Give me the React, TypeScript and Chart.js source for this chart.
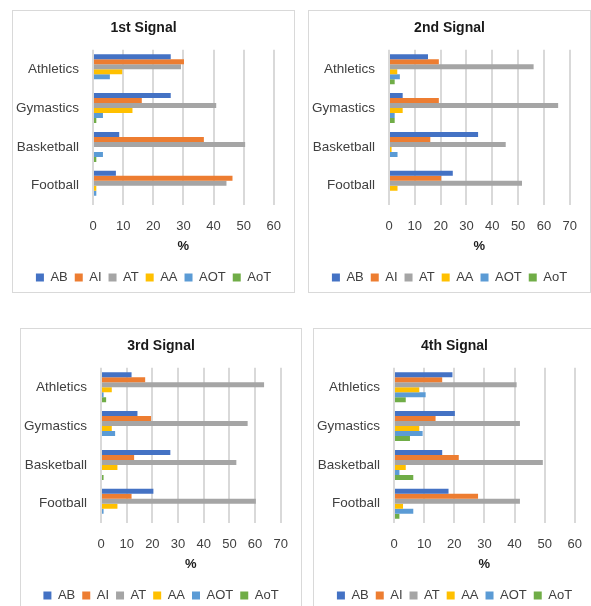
import React, { useEffect, useRef } from "react";
import { Chart, registerables } from "chart.js";

Chart.register(...registerables);

const categories = ["Athletics", "Gymastics", "Basketball", "Football"];
const seriesNames = ["AB", "AI", "AT", "AA", "AOT", "AoT"];
const seriesColors = ["#4472C4", "#ED7D31", "#A5A5A5", "#FFC000", "#5B9BD5", "#70AD47"];

const signalTitles = ["1st Signal", "2nd Signal", "3rd Signal", "4th Signal"];
const axisMax = [60, 70, 70, 60];

// each array: one row per signal, values per category (Athletics, Gymastics, Basketball, Football)
const AB = [
  [25.8, 25.8, 8.7, 7.6],
  [15.1, 5.3, 34.5, 24.7],
  [11.9, 14.2, 27.0, 20.4],
  [19.4, 20.2, 16.0, 18.1],
];
const AI = [
  [30.2, 16.2, 36.8, 46.3],
  [19.3, 19.3, 16.0, 20.2],
  [17.2, 19.5, 12.9, 11.9],
  [16.0, 13.8, 21.5, 27.9],
];
const AT = [
  [29.2, 40.9, 50.5, 44.3],
  [56.0, 65.5, 45.2, 51.5],
  [63.5, 57.1, 52.7, 60.3],
  [40.7, 41.8, 49.4, 41.8],
];
const AA = [
  [9.7, 13.1, 0, 1.1],
  [3.2, 5.3, 1.0, 3.3],
  [4.2, 4.2, 6.4, 6.4],
  [8.4, 8.4, 3.9, 3.0],
];
const AOT = [
  [5.6, 3.3, 3.3, 1.1],
  [4.2, 2.2, 3.3, 0],
  [1.0, 5.5, 0, 1.0],
  [10.5, 9.5, 1.8, 6.4],
];
const AoT = [
  [0, 1.1, 1.1, 0],
  [2.2, 2.2, 0, 0],
  [2.0, 0, 1.0, 0],
  [3.9, 5.3, 6.4, 1.8],
];
const seriesValues = [AB, AI, AT, AA, AOT, AoT];

const panelPos = [
  { left: 12, top: 10, width: 283, titleShift: -10 },
  { left: 308, top: 10, width: 283, titleShift: 0 },
  { left: 20, top: 328, width: 282, titleShift: 0 },
  { left: 313, top: 328, width: 283, titleShift: 0 },
];

const FONT = "'Liberation Sans', Arial, sans-serif";

function Panel({ idx }: { idx: number }) {
  const ref = useRef<HTMLCanvasElement | null>(null);
  const pos = panelPos[idx];
  const cw = pos.width - 2;
  const ch = 281;
  useEffect(() => {
    if (!ref.current) return;
    const shiftTitle = {
      id: "shiftTitle",
      afterInit(chart: any) {
        const tb = chart.titleBlock;
        if (tb && pos.titleShift) {
          const orig = tb.draw.bind(tb);
          tb.draw = (...args: any[]) => {
            const c = chart.ctx;
            c.save();
            c.translate(pos.titleShift, 0);
            orig(...args);
            c.restore();
          };
        }
      },
    };
    const chart = new Chart(ref.current, {
      type: "bar",
      data: {
        labels: categories,
        datasets: seriesNames.map((name, s) => ({
          label: name,
          data: seriesValues[s][idx],
          backgroundColor: seriesColors[s],
          borderWidth: 0,
          categoryPercentage: 0.77,
          barPercentage: 1,
          yAxisID: "y",
        })),
      },
      plugins: [shiftTitle],
      options: {
        indexAxis: "y",
        animation: false,
        responsive: false,
        devicePixelRatio: 1,
        layout: { padding: { left: 0, right: 0, top: 0, bottom: -2 } },
        plugins: {
          title: {
            display: true,
            text: signalTitles[idx],
            color: "#1a1a1a",
            font: { family: FONT, size: 14, weight: "bold" },
            padding: { top: 9, bottom: 13 },
          },
          legend: {
            display: true,
            position: "bottom",
            labels: {
              boxWidth: 8,
              boxHeight: 8,
              padding: 7,
              color: "#404040",
              font: { family: FONT, size: 13 },
            },
          },
          tooltip: { enabled: false },
        },
        scales: {
          x: {
            min: 0,
            max: axisMax[idx],
            ticks: {
              stepSize: 10,
              color: "#404040",
              padding: 13,
              maxRotation: 0,
              font: { family: FONT, size: 13 },
            },
            grid: { color: "#d9d9d9", lineWidth: 2, drawTicks: false },
            border: { display: false },
            title: {
              display: true,
              text: "%",
              color: "#1a1a1a",
              font: { family: FONT, size: 13, weight: "bold" },
              padding: { top: -8, bottom: 9.6 },
            },
          },
          y: {
            ticks: {
              color: "#404040",
              padding: 14,
              font: { family: FONT, size: 13.5 },
            },
            grid: { display: false, drawTicks: false },
            border: { display: false },
            afterFit: (scale: any) => {
              scale.width = 80;
            },
          },
          yRight: {
            type: "category",
            position: "right",
            display: true,
            ticks: { display: false },
            grid: { display: false, drawTicks: false },
            border: { display: false },
            afterFit: (scale: any) => {
              scale.width = cw - 264;
            },
          },
        },
      },
    } as any);
    chart.draw();
    return () => chart.destroy();
  }, [idx]);
  return (
    <div
      style={{
        position: "absolute",
        left: pos.left,
        top: pos.top,
        width: cw,
        height: ch,
        border: "1px solid #d9d9d9",
        background: "#fff",
      }}
    >
      <canvas ref={ref} width={cw} height={ch} style={{ display: "block" }} />
    </div>
  );
}

export default function App() {
  return (
    <div
      style={{
        position: "fixed",
        left: 0,
        top: 0,
        width: 591,
        height: 606,
        background: "#fff",
        overflow: "hidden",
      }}
    >
      {[0, 1, 2, 3].map((i) => (
        <Panel key={i} idx={i} />
      ))}
    </div>
  );
}
